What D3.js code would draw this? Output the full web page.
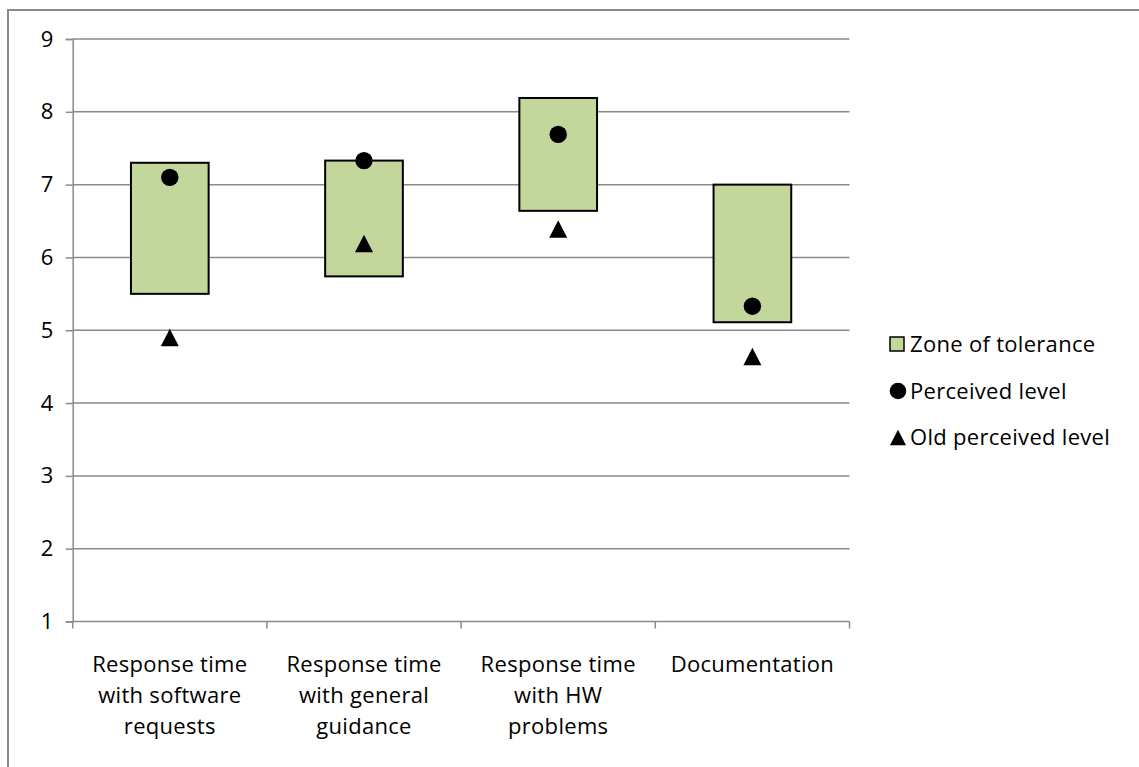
<!DOCTYPE html>
<html>
<head>
<meta charset="utf-8">
<script src="https://cdn.jsdelivr.net/npm/d3@7"></script>
<style>
  html, body { margin: 0; padding: 0; background: #fff; }
  svg { display: block; }
  text { font-family: "Open Sans", Carlito, Calibri, sans-serif; fill: #000; letter-spacing: 0.3px; }
</style>
</head>
<body>
<svg id="chart" width="1139" height="767"></svg>
<script>
// chart data
const categories = [
  ["Response time", "with software", "requests"],
  ["Response time", "with general", "guidance"],
  ["Response time", "with HW", "problems"],
  ["Documentation"]
];
const zoneLow = [5.5, 5.74, 6.64, 5.11];
const zoneHigh = [7.3, 7.33, 8.19, 7.0];
const perceived = [7.1, 7.33, 7.69, 5.33];
const oldPerceived = [4.9, 6.19, 6.39, 4.64];
const yTicks = [1, 2, 3, 4, 5, 6, 7, 8, 9];
const legendItems = ["Zone of tolerance", "Perceived level", "Old perceived level"];

const svg = d3.select("#chart");
const gray = "#8a8a8a";
const zoneFill = "#c3d69b";
const fontSize = 22;

// outer chart border
svg.append("rect")
  .attr("x", 8).attr("y", 10)
  .attr("width", 1150).attr("height", 780)
  .attr("fill", "none")
  .attr("stroke", gray)
  .attr("stroke-width", 2);

const plotL = 72.7, plotR = 849.5, plotT = 39, plotB = 621.5;

const keys = categories.map((c, i) => i);
const x = d3.scaleBand().domain(keys).range([plotL, plotR]).padding(0);
const y = d3.scaleLinear().domain([1, 9]).range([plotB, plotT]);
const barW = x.bandwidth() / 2.5;

// gridlines
svg.append("g")
  .selectAll("line")
  .data(yTicks.slice(1))
  .join("line")
  .attr("x1", plotL).attr("x2", plotR)
  .attr("y1", d => y(d)).attr("y2", d => y(d))
  .attr("stroke", gray)
  .attr("stroke-width", 1.5);

// y axis
const yAxis = svg.append("g")
  .attr("transform", `translate(${plotL},0)`)
  .call(d3.axisLeft(y).tickValues(yTicks).tickSize(7).tickPadding(12).tickFormat(d3.format("d")));
yAxis.select(".domain").attr("stroke", gray).attr("stroke-width", 1.5);
yAxis.selectAll(".tick line").attr("stroke", gray).attr("stroke-width", 1.5);
yAxis.selectAll(".tick text")
  .style("font-family", "'Open Sans', Carlito, Calibri, sans-serif")
  .style("font-size", fontSize + "px")
  .style("fill", "#000");

// x axis
svg.append("line")
  .attr("x1", plotL).attr("x2", plotR)
  .attr("y1", plotB).attr("y2", plotB)
  .attr("stroke", gray).attr("stroke-width", 1.5);
svg.append("g")
  .selectAll("line")
  .data(d3.range(categories.length + 1))
  .join("line")
  .attr("x1", i => plotL + i * x.step()).attr("x2", i => plotL + i * x.step())
  .attr("y1", plotB).attr("y2", plotB + 7)
  .attr("stroke", gray).attr("stroke-width", 1.5);

// category labels
const labels = svg.append("g")
  .selectAll("text")
  .data(categories)
  .join("text")
  .attr("text-anchor", "middle")
  .attr("font-size", fontSize)
  .attr("x", (d, i) => x(i) + x.bandwidth() / 2)
  .attr("y", 672);
labels.selectAll("tspan")
  .data(d => d)
  .join("tspan")
  .attr("x", function () { return d3.select(this.parentNode).attr("x"); })
  .attr("dy", (d, i) => i === 0 ? 0 : 31)
  .text(d => d);

// zone of tolerance boxes
svg.append("g")
  .selectAll("rect")
  .data(keys)
  .join("rect")
  .attr("x", i => x(i) + x.bandwidth() / 2 - barW / 2)
  .attr("width", barW)
  .attr("y", i => y(zoneHigh[i]))
  .attr("height", i => y(zoneLow[i]) - y(zoneHigh[i]))
  .attr("fill", zoneFill)
  .attr("stroke", "#000")
  .attr("stroke-width", 2);

// perceived level markers
svg.append("g")
  .selectAll("circle")
  .data(keys)
  .join("circle")
  .attr("cx", i => x(i) + x.bandwidth() / 2)
  .attr("cy", i => y(perceived[i]))
  .attr("r", 8.7)
  .attr("fill", "#000");

// old perceived level markers
const tri = (cx, cy, w, h) => `M${cx},${cy - h / 2}L${cx + w / 2},${cy + h / 2}L${cx - w / 2},${cy + h / 2}Z`;
svg.append("g")
  .selectAll("path")
  .data(keys)
  .join("path")
  .attr("d", i => tri(x(i) + x.bandwidth() / 2, y(oldPerceived[i]), 18, 17.5))
  .attr("fill", "#000");

// legend
const legend = svg.append("g");
const rowY = [344, 391, 437.5];
legend.append("rect")
  .attr("x", 890).attr("y", rowY[0] - 7)
  .attr("width", 14).attr("height", 14)
  .attr("fill", zoneFill).attr("stroke", "#000").attr("stroke-width", 1.5);
legend.append("circle")
  .attr("cx", 898).attr("cy", rowY[1]).attr("r", 8.3).attr("fill", "#000");
legend.append("path")
  .attr("d", tri(898, rowY[2], 16, 15.5)).attr("fill", "#000");
legend.selectAll("text")
  .data(legendItems)
  .join("text")
  .attr("x", 910)
  .attr("y", (d, i) => rowY[i])
  .attr("dy", "0.35em")
  .attr("font-size", fontSize)
  .text(d => d);
</script>
</body>
</html>
